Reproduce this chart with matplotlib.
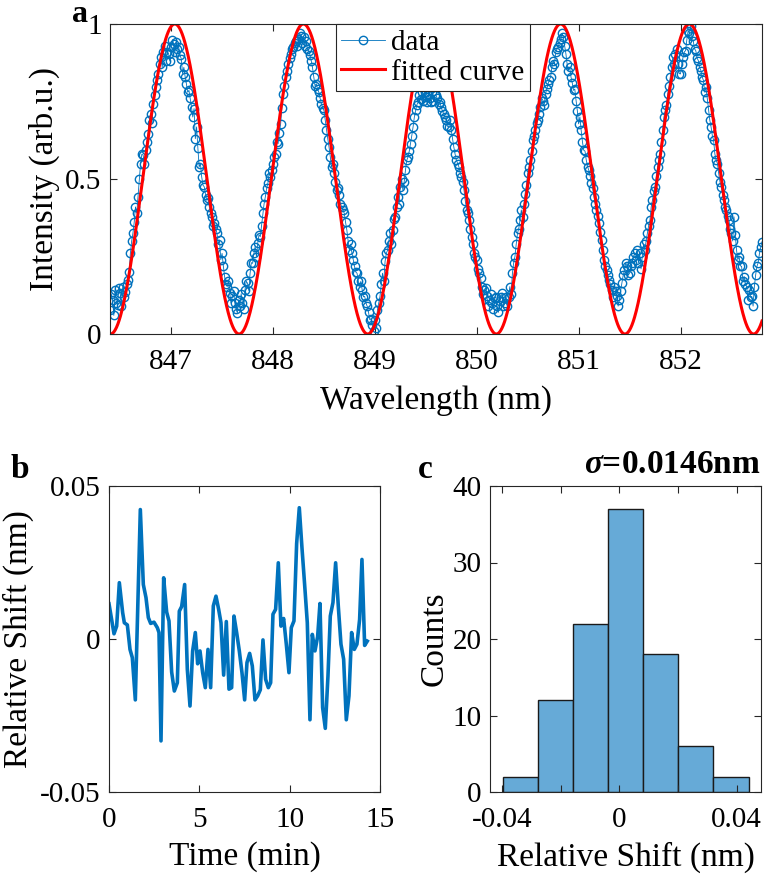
import numpy as np
import matplotlib
matplotlib.use('Agg')
import matplotlib.pyplot as plt

plt.rcParams['font.family'] = ['Liberation Serif', 'DejaVu Serif']
plt.rcParams['mathtext.fontset'] = 'custom'
plt.rcParams['mathtext.rm'] = 'Liberation Serif'
plt.rcParams['mathtext.bf'] = 'Liberation Serif:italic:bold'
plt.rcParams['axes.unicode_minus'] = False

# ---------------- data: panel a ----------------
wl_start, wl_stop = 846.4, 852.8
# intensity read at 846.400, 846.425, ... 852.800 (0.025 nm grid)
intensity_grid = [
    0.078, 0.11, 0.143, 0.094, 0.132, 0.153, 0.137, 0.175, 0.26, 0.325,
    0.41, 0.443, 0.55, 0.577, 0.593, 0.646, 0.71, 0.743, 0.796, 0.84,
    0.893, 0.909, 0.882, 0.904, 0.925, 0.936, 0.941, 0.925, 0.887, 0.86,
    0.807, 0.786, 0.732, 0.727, 0.668, 0.539, 0.507, 0.475, 0.432, 0.41,
    0.378, 0.357, 0.325, 0.303, 0.26, 0.185, 0.153, 0.132, 0.121, 0.10,
    0.068, 0.089,
    0.10, 0.143, 0.164, 0.196, 0.228, 0.282, 0.293, 0.314, 0.389, 0.443,
    0.486, 0.507, 0.55, 0.582, 0.614, 0.678, 0.775, 0.829, 0.871, 0.904,
    0.925, 0.946, 0.952, 0.962, 0.957, 0.946, 0.914, 0.882, 0.829, 0.807,
    0.78, 0.743, 0.721, 0.657, 0.603, 0.539, 0.518, 0.464, 0.448, 0.41,
    0.389, 0.335, 0.271, 0.26, 0.218, 0.196, 0.153, 0.143, 0.121, 0.089,
    0.046, 0.03,
    0.046, 0.078, 0.121, 0.196, 0.234, 0.271, 0.325, 0.335, 0.378, 0.443,
    0.475, 0.464, 0.528, 0.571, 0.614, 0.668, 0.721, 0.748, 0.759, 0.753,
    0.764, 0.77, 0.748, 0.753, 0.77, 0.743, 0.732, 0.711, 0.689, 0.668,
    0.657, 0.603, 0.561, 0.539, 0.507, 0.464, 0.40, 0.368, 0.314, 0.26,
    0.239, 0.196, 0.153, 0.143, 0.121, 0.11, 0.10, 0.116, 0.089, 0.105,
    0.132, 0.10,
    0.089, 0.153, 0.196, 0.25, 0.325, 0.368, 0.378, 0.453, 0.518, 0.561,
    0.625, 0.657, 0.689, 0.732, 0.753, 0.775, 0.807, 0.829, 0.882, 0.909,
    0.925, 0.952, 0.957, 0.904, 0.85, 0.829, 0.786, 0.753, 0.678, 0.657,
    0.593, 0.561, 0.528, 0.486, 0.443, 0.40, 0.357, 0.303, 0.239, 0.207,
    0.175, 0.143, 0.153, 0.121, 0.11, 0.164, 0.207, 0.218, 0.196, 0.228,
    0.26, 0.271,
    0.26, 0.25, 0.271, 0.325, 0.368, 0.432, 0.475, 0.539, 0.582, 0.657,
    0.721, 0.775, 0.829, 0.893, 0.904, 0.871, 0.839, 0.893, 0.914, 0.979,
    0.995, 0.946, 0.914, 0.882, 0.85, 0.818, 0.796, 0.721, 0.668, 0.625,
    0.561, 0.518, 0.475, 0.432, 0.40, 0.368, 0.325, 0.378, 0.271, 0.25,
    0.218, 0.185, 0.153, 0.143, 0.121, 0.153, 0.218, 0.26, 0.298,
]
# intensity read at the in-between samples 846.4125, 846.4375, ... 852.7875
intensity_mid = [
    0.13, 0.06, 0.10, 0.15, 0.09, 0.12, 0.16, 0.20, 0.30, 0.36,
    0.39, 0.50, 0.58, 0.55, 0.62, 0.69, 0.68, 0.77, 0.82, 0.87,
    0.86, 0.93, 0.91, 0.88, 0.95, 0.91, 0.92, 0.90, 0.84, 0.83,
    0.78, 0.76, 0.70, 0.63, 0.60, 0.55, 0.48, 0.45, 0.44, 0.39,
    0.35, 0.34, 0.29, 0.24, 0.22, 0.16, 0.17, 0.10, 0.14, 0.08,
    0.11, 0.13,
    0.08, 0.17, 0.14, 0.23, 0.26, 0.25, 0.32, 0.35, 0.42, 0.47,
    0.52, 0.53, 0.57, 0.62, 0.65, 0.73, 0.80, 0.85, 0.89, 0.92,
    0.94, 0.93, 0.97, 0.94, 0.93, 0.92, 0.90, 0.86, 0.80, 0.79,
    0.76, 0.73, 0.69, 0.63, 0.57, 0.55, 0.49, 0.47, 0.42, 0.40,
    0.36, 0.30, 0.29, 0.24, 0.20, 0.17, 0.17, 0.12, 0.10, 0.07,
    0.05, 0.01,
    0.02, 0.10, 0.16, 0.17, 0.26, 0.30, 0.29, 0.37, 0.41, 0.42,
    0.50, 0.49, 0.56, 0.59, 0.64, 0.70, 0.74, 0.77, 0.78, 0.78,
    0.75, 0.76, 0.78, 0.77, 0.76, 0.75, 0.72, 0.70, 0.67, 0.69,
    0.63, 0.58, 0.55, 0.52, 0.49, 0.43, 0.39, 0.34, 0.29, 0.25,
    0.21, 0.18, 0.13, 0.15, 0.09, 0.13, 0.08, 0.12, 0.07, 0.12,
    0.09, 0.12,
    0.12, 0.13, 0.23, 0.29, 0.34, 0.40, 0.42, 0.48, 0.54, 0.59,
    0.64, 0.68, 0.71, 0.76, 0.74, 0.79, 0.82, 0.86, 0.87, 0.92,
    0.94, 0.97, 0.93, 0.87, 0.86, 0.81, 0.79, 0.72, 0.70, 0.62,
    0.59, 0.54, 0.51, 0.47, 0.42, 0.38, 0.33, 0.27, 0.22, 0.19,
    0.16, 0.12, 0.14, 0.09, 0.14, 0.19, 0.23, 0.19, 0.22, 0.25,
    0.24, 0.23,
    0.21, 0.29, 0.30, 0.35, 0.41, 0.46, 0.51, 0.56, 0.62, 0.70,
    0.74, 0.80, 0.86, 0.87, 0.92, 0.84, 0.87, 0.91, 0.95, 0.97,
    0.96, 0.92, 0.89, 0.86, 0.83, 0.78, 0.76, 0.69, 0.64, 0.58,
    0.55, 0.49, 0.45, 0.41, 0.38, 0.34, 0.30, 0.32, 0.24, 0.22,
    0.17, 0.16, 0.11, 0.12, 0.09, 0.19, 0.23, 0.28,
]
n_pts = len(intensity_grid) + len(intensity_mid)
intensity = np.empty(n_pts)
intensity[0::2] = intensity_grid
intensity[1::2] = intensity_mid
wavelength = np.linspace(wl_start, wl_stop, n_pts)

# fitted cosine model parameters
fit_amplitude = 1.0
fit_peak_nm = 847.036
fit_period_nm = 1.2625
wl_fit = np.linspace(wl_start, wl_stop, 1500)
fit_curve = fit_amplitude * 0.5 * (1 + np.cos(2 * np.pi * (wl_fit - fit_peak_nm) / fit_period_nm))

# ---------------- data: panel b ----------------
time_min = [
    0.000, 0.277, 0.424, 0.572, 0.756, 0.849, 1.015, 1.162, 1.291, 1.457,
    1.734, 1.900, 2.048, 2.177, 2.306, 2.490, 2.675, 2.767, 2.878, 3.025,
    3.191, 3.320, 3.468, 3.616, 3.782, 3.892, 4.021, 4.187, 4.335, 4.483,
    4.630, 4.778, 4.907, 5.036, 5.184, 5.331, 5.479, 5.626, 5.774, 5.921,
    6.069, 6.198, 6.346, 6.493, 6.641, 6.788, 6.918, 7.065, 7.213, 7.360,
    7.508, 7.637, 7.785, 7.932, 8.080, 8.227, 8.375, 8.522, 8.670, 8.818,
    8.947, 9.076, 9.223, 9.371, 9.518, 9.666, 9.814, 9.961, 10.090, 10.238,
    10.386, 10.533, 10.681, 10.828, 10.976, 11.123, 11.253, 11.400, 11.548, 11.677,
    11.824, 11.972, 12.120, 12.249, 12.396, 12.544, 12.691, 12.839, 12.987, 13.134,
    13.282, 13.429, 13.577, 13.724, 13.872, 14.001, 14.149, 14.296,
]
shift = [
    0.0115, 0.0017, 0.0042, 0.0184, 0.0086, 0.0053, 0.0046, -0.0034, -0.0061, -0.0199,
    0.0423, 0.0178, 0.0135, 0.0070, 0.0051, 0.0055, 0.0037, 0.0021, -0.0333, 0.0200,
    0.0088, 0.0059, -0.0108, -0.0170, -0.0143, 0.0091, 0.0106, 0.0178, -0.0099, -0.0219,
    -0.0039, 0.0021, -0.0081, -0.0039, -0.0110, -0.0159, -0.0034, -0.0159, 0.0108, 0.0140,
    0.0097, 0.0053, -0.0118, 0.0057, -0.0164, -0.0159, 0.0075, 0.0021, -0.0039, -0.0110,
    -0.0199, -0.0077, -0.0047, -0.0088, -0.0199, -0.0186, -0.0166, -0.0003, -0.0132, -0.0159,
    -0.0143, 0.0081, 0.0097, 0.0249, 0.0042, 0.0067, -0.0017, -0.0110, 0.0037, 0.0059,
    0.0312, 0.0429, 0.0298, 0.0178, 0.0053, -0.0264, 0.0015, -0.0039, 0.0008, 0.0116,
    -0.0224, -0.0292, -0.0121, 0.0075, 0.0119, 0.0249, 0.0108, -0.0017, -0.0066, -0.0264,
    -0.0186, 0.0021, -0.0034, -0.0017, 0.0064, 0.0260, -0.0021, -0.0007,
]

# ---------------- data: panel c ----------------
bin_edges = [-0.0398, -0.0279, -0.0159, -0.0039, 0.0081, 0.0201, 0.0321, 0.0441]
counts = [2, 12, 22, 37, 18, 6, 2]
sigma_text = r'$\mathbf{\sigma}$=0.0146nm'

# ---------------- styling ----------------
BLUE = '#0072BD'
AX_COLOR = '#262626'
TICK_FS = 21
LABEL_FS = 24

W, H = 766, 882
fig = plt.figure(figsize=(W / 100, H / 100), dpi=100)


def px_axes(x0, y0, x1, y1):
    return fig.add_axes([x0 / W, 1 - y1 / H, (x1 - x0) / W, (y1 - y0) / H])


def style(ax):
    for s in ax.spines.values():
        s.set_color(AX_COLOR)
        s.set_linewidth(0.8)
    ax.tick_params(direction='in', top=True, right=True, length=5, width=0.8,
                   color=AX_COLOR, labelsize=TICK_FS, labelcolor='black')
    ax.tick_params(axis='y', pad=6)
    ax.tick_params(axis='x', pad=11)


# panel a
axa = px_axes(110, 24, 762, 334)
axa.plot(wavelength, intensity, '-o', color=BLUE, lw=0.6, ms=6.0,
         mfc='none', mec=BLUE, mew=1.0, label='data')
axa.plot(wl_fit, fit_curve, '-', color='red', lw=2.2, label='fitted curve')
axa.set_xlim(wl_start, wl_stop)
axa.set_ylim(0, 1)
axa.set_xticks([847, 848, 849, 850, 851, 852])
axa.set_yticks([0, 0.5, 1])
axa.set_yticklabels(['0', '0.5', '1'])
axa.set_xlabel('Wavelength (nm)', fontsize=LABEL_FS, labelpad=7)
axa.set_ylabel('Intensity (arb.u.)', fontsize=LABEL_FS, labelpad=4)
style(axa)
leg = axa.legend(loc='upper left', bbox_to_anchor=(0.346, 1.0), borderaxespad=0,
                 fontsize=TICK_FS, frameon=True, fancybox=False, handlelength=1.5,
                 handletextpad=0.2, borderpad=0.2, labelspacing=0.1)
leg.get_frame().set_edgecolor(AX_COLOR)
leg.get_frame().set_linewidth(0.8)
leg.get_frame().set_alpha(1)

# panel b
axb = px_axes(109, 486, 380, 792)
axb.plot(time_min, shift, '-', color=BLUE, lw=2.6)
axb.set_xlim(0, 15)
axb.set_ylim(-0.05, 0.05)
axb.set_xticks([0, 5, 10, 15])
axb.set_yticks([-0.05, 0, 0.05])
axb.set_yticklabels(['-0.05', '0', '0.05'])
axb.set_xlabel('Time (min)', fontsize=LABEL_FS, labelpad=6)
axb.set_ylabel('Relative Shift (nm)', fontsize=LABEL_FS, labelpad=4)
style(axb)

# panel c
axc = px_axes(490, 486, 761, 792)
edges = np.array(bin_edges)
axc.bar(edges[:-1], counts, width=np.diff(edges), align='edge',
        color='#66AAD7', edgecolor='#1a1a1a', linewidth=1.0)
axc.set_xlim(-0.0441, 0.0483)
axc.set_ylim(0, 40)
axc.set_xticks([-0.04, -0.02, 0, 0.02, 0.04])
axc.set_xticklabels(['-0.04', '', '0', '', '0.04'])
axc.set_yticks([0, 10, 20, 30, 40])
axc.set_xlabel('Relative Shift (nm)', fontsize=LABEL_FS, labelpad=6)
axc.set_ylabel('Counts', fontsize=LABEL_FS, labelpad=2)
style(axc)
axc.text(1.0, 1.02, sigma_text, transform=axc.transAxes, ha='right', va='bottom',
         fontsize=LABEL_FS, fontweight='bold')

# panel letters
fig.text(80 / W, 1 - 0.5 / H, 'a', fontsize=23, fontweight='bold', ha='center', va='top')
fig.text(20 / W, 1 - 470 / H, 'b', fontsize=LABEL_FS, fontweight='bold', ha='center', va='center')
fig.text(425 / W, 1 - 470 / H, 'c', fontsize=LABEL_FS, fontweight='bold', ha='center', va='center')

fig.savefig('out.png', dpi=100)
